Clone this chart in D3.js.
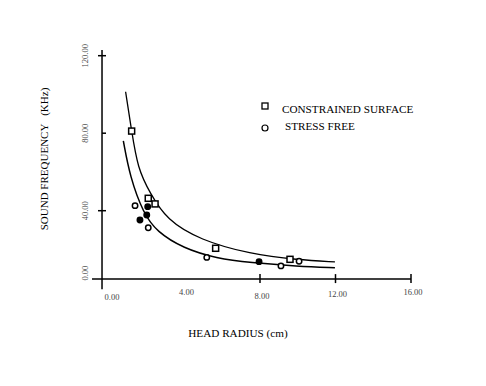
<!DOCTYPE html>
<html>
<head>
<meta charset="utf-8">
<script src="https://cdn.jsdelivr.net/npm/d3@7"></script>
<style>
  body { margin: 0; background: white; }
</style>
</head>
<body>
<div id="chart"></div>
<script>
// values
const xTicks = [8, 12, 16];
const xTickLabels = ["0.00", "4.00", "8.00", "12.00", "16.00"];
const yTicks = [40, 80, 120];
const yTickLabels = ["0.00", "40.00", "80.00", "120.00"];

// constrained surface (squares)
const csX = [1.20, 2.08, 2.44, 5.65, 9.59];
const csY = [81.1, 46.4, 43.5, 20.6, 14.9];
// stress free (circles), filled flag for the dark blobs
const sfX = [1.38, 2.05, 2.00, 1.64, 2.08, 5.18, 7.95, 9.11, 10.07];
const sfY = [42.6, 42.1, 37.8, 35.2, 31.2, 15.9, 13.7, 11.5, 13.9];
const sfFilled = [false, true, true, true, false, false, true, false, false];

// fitted curves as drawn
const upperX = [0.88, 1.20, 1.52, 2.17, 3.06, 4.82, 7.47, 10.0, 11.97];
const upperY = [101.4, 81.1, 61.9, 49.1, 35.2, 24.9, 17.6, 14.6, 13.6];
const lowerX = [0.76, 1.11, 1.82, 2.53, 3.94, 5.71, 7.47, 10.0, 11.97];
const lowerY = [76.0, 57.5, 38.7, 29.2, 20.6, 15.4, 13.2, 11.3, 10.6];

const width = 486, height = 386;
const serif = "'Liberation Serif', 'Times New Roman', 'DejaVu Serif', serif";

const svg = d3.select("#chart")
    .append("svg")
    .attr("width", width)
    .attr("height", height)
    .attr("font-family", serif);

const x = d3.scaleLinear().domain([0, 16]).range([109, 411]);
const y = d3.scaleLinear().domain([0, 120]).range([288.2, 55.7]);

// axes cross a little off the origin, like the original
const yAxisAt = -0.37, xAxisAt = 4.7;

const axisG = svg.append("g").attr("stroke", "black").attr("stroke-width", 1.5);

axisG.append("line") // vertical
    .attr("x1", x(yAxisAt)).attr("x2", x(yAxisAt))
    .attr("y1", y(123)).attr("y2", y(-0.5));
axisG.append("line") // horizontal
    .attr("x1", x(-0.9)).attr("x2", x(16))
    .attr("y1", y(xAxisAt)).attr("y2", y(xAxisAt));

// y ticks
axisG.selectAll(".yt")
    .data(yTicks)
    .join("line")
    .attr("x1", d => d === 80 ? x(yAxisAt) : x(yAxisAt) - 4)
    .attr("x2", x(yAxisAt) + 4)
    .attr("y1", d => y(d)).attr("y2", d => y(d));

// x ticks
axisG.selectAll(".xt")
    .data(xTicks)
    .join("line")
    .attr("x1", d => x(d)).attr("x2", d => x(d))
    .attr("y1", y(xAxisAt) - 5).attr("y2", y(xAxisAt) + 4);

// tick labels
const xLabelDy = [21, 16, 20, 18, 16];
svg.append("g")
    .selectAll("text")
    .data(xTickLabels)
    .join("text")
    .attr("x", (d, i) => x(i * 4) + (i === 0 ? 3 : 2))
    .attr("y", (d, i) => y(xAxisAt) + xLabelDy[i])
    .attr("text-anchor", "middle")
    .attr("font-size", 8.5)
    .attr("fill", "#444")
    .text(d => d);

svg.append("g")
    .selectAll("text")
    .data(yTickLabels)
    .join("text")
    .attr("transform", (d, i) => {
        const v = i === 0 ? 7.8 : i * 40;
        return `translate(${x(yAxisAt) - 14},${y(v)}) rotate(-90)`;
    })
    .attr("text-anchor", "middle")
    .attr("font-size", 8.5)
    .attr("fill", "#444")
    .text(d => d);

// axis titles
svg.append("text")
    .attr("x", 238).attr("y", 337)
    .attr("text-anchor", "middle")
    .attr("font-size", 11.2)
    .text("HEAD RADIUS (cm)");

svg.append("text")
    .attr("transform", "translate(48,159) rotate(-90)")
    .attr("text-anchor", "middle")
    .attr("font-size", 11)
    .style("white-space", "pre")
    .text("SOUND FREQUENCY   (KHz)");

// curves
const line = d3.line()
    .x(d => x(d[0]))
    .y(d => y(d[1]))
    .curve(d3.curveBasis);

svg.append("path")
    .datum(d3.zip(upperX, upperY))
    .attr("d", line)
    .attr("fill", "none")
    .attr("stroke", "black")
    .attr("stroke-width", 1.3);

svg.append("path")
    .datum(d3.zip(lowerX, lowerY))
    .attr("d", line)
    .attr("fill", "none")
    .attr("stroke", "black")
    .attr("stroke-width", 1.5);

// markers
svg.append("g")
    .selectAll("rect")
    .data(d3.zip(csX, csY))
    .join("rect")
    .attr("x", d => x(d[0]) - 3)
    .attr("y", d => y(d[1]) - 3)
    .attr("width", 6).attr("height", 6)
    .attr("fill", "white")
    .attr("stroke", "black")
    .attr("stroke-width", 1.5);

svg.append("g")
    .selectAll("circle")
    .data(d3.zip(sfX, sfY, sfFilled))
    .join("circle")
    .attr("cx", d => x(d[0]))
    .attr("cy", d => y(d[1]))
    .attr("r", 2.7)
    .attr("fill", d => d[2] ? "black" : "white")
    .attr("stroke", "black")
    .attr("stroke-width", 1.5);

// legend
const legend = svg.append("g");
legend.append("rect")
    .attr("x", 262).attr("y", 103)
    .attr("width", 6).attr("height", 6)
    .attr("fill", "white").attr("stroke", "black").attr("stroke-width", 1.3);
legend.append("text")
    .attr("x", 282).attr("y", 113)
    .attr("font-size", 11.2)
    .text("CONSTRAINED SURFACE");
legend.append("circle")
    .attr("cx", 265).attr("cy", 128).attr("r", 3)
    .attr("fill", "white").attr("stroke", "black").attr("stroke-width", 1.2);
legend.append("text")
    .attr("x", 285).attr("y", 130)
    .attr("font-size", 11.2)
    .text("STRESS FREE");
</script>
</body>
</html>
